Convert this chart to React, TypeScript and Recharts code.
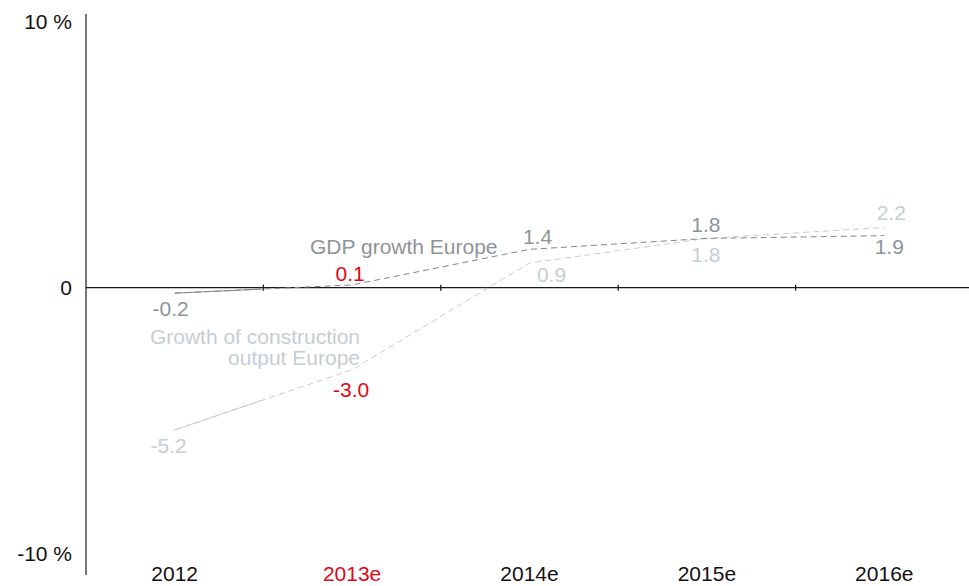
import React from 'react'
import {
  LineChart,
  Line,
  XAxis,
  YAxis,
  ReferenceLine,
  LabelList,
} from 'recharts'

// ----------------------------------------------------------------------------
// Data
// ----------------------------------------------------------------------------

const CATEGORIES = ['2012', '2013e', '2014e', '2015e', '2016e']
const GDP_GROWTH = [-0.2, 0.1, 1.4, 1.8, 1.9]
const CONSTRUCTION_GROWTH = [-5.2, -3.0, 0.9, 1.8, 2.2]
// last actual year; the rest are estimates (dashed)
const ACTUAL_COUNT = 2
const HIGHLIGHT_INDEX = 1
const Y_TICKS = [-10, 0, 10]
const Y_TICK_LABELS = ['-10 %', '0', '10 %']

// ----------------------------------------------------------------------------
// Theme
// ----------------------------------------------------------------------------

const FONT = '"Liberation Sans", Arial, Helvetica, sans-serif'
const RED = '#e30613'
const GDP_LINE = '#7f868b'
const GDP_TEXT = '#8d9499'
const CONS_LINE = '#c3ccd3'
const CONS_TEXT = '#c4ced5'
const AXIS = '#1a1a1a'

// label offsets per point (dx, dy to baseline)
const GDP_LABEL_OFFSETS = [[-4, 23], [-2, -4], [8, -5], [-1, -6], [5, 18]]
const CONS_LABEL_OFFSETS = [[-6, 23], [-1, 27], [22, 19], [-1, 24], [7, -7]]

const rows = CATEGORIES.map((c, i) => ({
  idx: i,
  name: c,
  gdp: GDP_GROWTH[i],
  cons: CONSTRUCTION_GROWTH[i],
  gdpActual: i < ACTUAL_COUNT ? GDP_GROWTH[i] : null,
  consActual: i < ACTUAL_COUNT ? CONSTRUCTION_GROWTH[i] : null,
}))

const boundaries = CATEGORIES.slice(1).map((_, i) => i + 0.5)

function valueLabel(offsets: number[][], color: string) {
  return (props: any) => {
    const { x, y, value, index } = props
    if (value === null || value === undefined) return null
    const [dx, dy] = offsets[index] || [0, 0]
    return (
      <text
        x={x + dx}
        y={y + dy}
        textAnchor="middle"
        fontSize={21}
        fontFamily={FONT}
        fill={index === HIGHLIGHT_INDEX ? RED : color}
      >
        {Number(value).toFixed(1)}
      </text>
    )
  }
}

function YTick(props: any) {
  const { x, y, payload } = props
  const i = Y_TICKS.indexOf(payload.value)
  // top label hangs below its tick, bottom label sits on it
  const dy = payload.value > 0 ? 15 : payload.value < 0 ? 0 : 7.5
  return (
    <text x={x} y={y + dy} textAnchor="end" fontSize={21} fontFamily={FONT} fill="#111">
      {Y_TICK_LABELS[i]}
    </text>
  )
}

function XTick(props: any) {
  const { x, y, payload } = props
  const i = payload.value
  return (
    <text
      x={x}
      y={y + 6}
      textAnchor="middle"
      fontSize={21}
      fontFamily={FONT}
      fill={i === HIGHLIGHT_INDEX ? RED : '#111'}
    >
      {CATEGORIES[i]}
    </text>
  )
}

export default function App() {
  return (
    <div
      style={{
        position: 'absolute',
        left: 0,
        top: 0,
        width: 969,
        height: 586,
        overflow: 'hidden',
        background: '#fff',
        fontFamily: FONT,
      }}
    >
      <LineChart
        width={973}
        height={586}
        data={rows}
        margin={{ top: 14, right: 0, bottom: 0, left: 0 }}
      >
        <XAxis
          type="number"
          dataKey="idx"
          domain={[-0.5, 4.5]}
          ticks={[0, 1, 2, 3, 4]}
          height={11}
          axisLine={false}
          tickLine={false}
          tickSize={0}
          tickMargin={0}
          tick={<XTick />}
          interval={0}
        />
        <YAxis
          domain={[-10.5, 10]}
          ticks={Y_TICKS}
          width={86}
          axisLine={{ stroke: AXIS, strokeWidth: 1.2 }}
          tickLine={false}
          tickSize={0}
          tickMargin={14}
          tick={<YTick />}
          interval={0}
        />
        <ReferenceLine y={0} stroke={AXIS} strokeWidth={1.3} />
        {boundaries.map((b) => (
          <ReferenceLine
            key={b}
            segment={[{ x: b, y: -0.11 }, { x: b, y: 0.11 }]}
            stroke={AXIS}
            strokeWidth={1.3}
          />
        ))}

        {/* estimates: dashed */}
        <Line
          dataKey="cons"
          stroke={CONS_LINE}
          strokeWidth={1}
          strokeDasharray="6 4"
          dot={false}
          isAnimationActive={false}
        >
          <LabelList dataKey="cons" content={valueLabel(CONS_LABEL_OFFSETS, CONS_TEXT)} />
        </Line>
        <Line
          dataKey="gdp"
          stroke={GDP_LINE}
          strokeWidth={1}
          strokeDasharray="6 4"
          dot={false}
          isAnimationActive={false}
        >
          <LabelList dataKey="gdp" content={valueLabel(GDP_LABEL_OFFSETS, GDP_TEXT)} />
        </Line>

        {/* actuals: solid up to the year boundary */}
        <Line
          dataKey="consActual"
          stroke={CONS_LINE}
          strokeWidth={1}
          pathLength={2}
          strokeDasharray="1 1"
          dot={false}
          isAnimationActive={false}
        />
        <Line
          dataKey="gdpActual"
          stroke={GDP_LINE}
          strokeWidth={1}
          pathLength={2}
          strokeDasharray="1 1"
          dot={false}
          isAnimationActive={false}
        />
      </LineChart>

      {/* series names */}
      <svg
        width={969}
        height={586}
        style={{ position: 'absolute', left: 0, top: 0, pointerEvents: 'none' }}
      >
        <text x={310} y={254} fontSize={21} fontFamily={FONT} fill={GDP_TEXT}>
          GDP growth Europe
        </text>
        <text x={360} y={344} textAnchor="end" fontSize={21} fontFamily={FONT} fill={CONS_TEXT}>
          Growth of construction
        </text>
        <text x={360} y={365} textAnchor="end" fontSize={21} fontFamily={FONT} fill={CONS_TEXT}>
          output Europe
        </text>
      </svg>
    </div>
  )
}
